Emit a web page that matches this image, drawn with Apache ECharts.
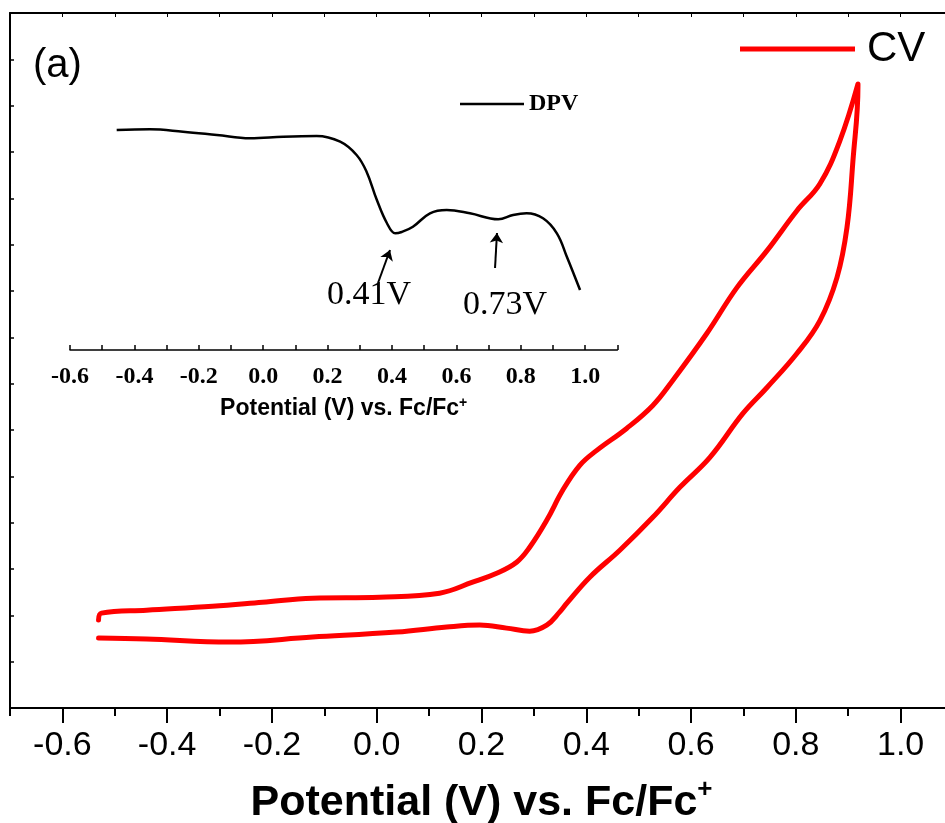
<!DOCTYPE html>
<html>
<head>
<meta charset="utf-8">
<script src="https://cdn.jsdelivr.net/npm/echarts@6/dist/echarts.min.js"></script>
<style>html,body{margin:0;padding:0;background:#fff}#c{width:945px;height:823px}</style>
</head>
<body>
<div id="c"></div>
<script>
// CV loop: potential (V vs Fc/Fc+) and current (arbitrary units)
var cvPotential = [-0.531,-0.4395,-0.281,-0.1224,0.038,0.1335,0.1966,0.248,0.292,0.3245,0.349,0.363,0.4067,0.464,0.527,0.5786,0.636,0.699,0.745,0.802,0.846,0.8785,0.8976,0.909,0.9186,
  0.9186,0.884,0.846,0.802,0.745,0.6875,0.630,0.565,0.527,0.477,0.420,0.3876,0.355,0.3245,0.292,0.267,0.229,0.183,0.120,0.0055,-0.1224,-0.218,-0.3135,-0.4395,-0.5255,-0.531];
var cvCurrent = [1.509,1.487,1.422,1.530,1.638,1.746,1.789,1.724,1.659,1.789,2.069,2.263,2.823,3.405,4.116,4.763,5.409,6.358,6.918,7.651,8.362,9.289,10.366,11.810,13.427,
  13.470,12.241,11.315,10.733,9.871,9.073,8.082,7.069,6.530,6.034,5.560,5.237,4.698,4.052,3.470,3.147,2.909,2.716,2.478,2.392,2.371,2.284,2.198,2.112,2.047,1.897];
// Inset DPV curve
var dpvPotential = [-0.455,-0.352,-0.249,-0.144,-0.041,0.062,0.166,0.239,0.29,0.321,0.353,0.384,0.41,0.43,0.465,0.518,0.57,0.642,0.73,0.776,0.818,0.869,0.912,0.943,0.984];
var dpvCurrent = [22.0,22.07,21.83,21.5,21.17,21.33,21.4,20.83,19.5,17.83,15.0,12.7,11.67,11.8,12.33,13.67,14.0,13.67,13.07,13.5,13.67,13.17,11.67,9.33,6.0];
// Tick labels
var mainTicks = [-0.6,-0.4,-0.2,0.0,0.2,0.4,0.6,0.8,1.0];
var mainMinorTicks = [-0.7,-0.5,-0.3,-0.1,0.1,0.3,0.5,0.7,0.9,1.1];
var insetTicks = [-0.6,-0.4,-0.2,0.0,0.2,0.4,0.6,0.8,1.0];
// Peak annotations
var peakLabels = ['0.41V','0.73V'];
var arrowStart = [[0.3565,6.7],[0.72,8.2]];
var arrowEnd = [[0.3938,10.0],[0.726,11.7]];

var cvData = cvPotential.map(function(v,i){return [v,cvCurrent[i]];});
var dpvData = dpvPotential.map(function(v,i){return [v,dpvCurrent[i]];});
var fmt = function(v){return v.toFixed(1);};
var SANS = 'Liberation Sans', SERIF = 'Liberation Serif';

var chart = echarts.init(document.getElementById('c'), null, {renderer:'canvas'});
chart.setOption({
  animation:false,
  backgroundColor:'#fff',
  grid:[
    {left:10, top:13, width:943, bottom:115, outerBoundsMode:'none', containLabel:false},
    {left:70, top:90, width:547.4, bottom:473, outerBoundsMode:'none', containLabel:false}
  ],
  legend:[
    {data:[{name:'CV', icon:'rect'}], left:735, top:23, itemWidth:115, itemHeight:5,
     textStyle:{fontFamily:SANS, fontSize:42, color:'#000', padding:[0,0,0,7]}},
    {data:[{name:'DPV', icon:'rect'}], left:455, top:87, itemWidth:64, itemHeight:2.5,
     textStyle:{fontFamily:SERIF, fontWeight:'bold', fontSize:24, color:'#000'}}
  ],
  xAxis:[
    {gridIndex:0, type:'value', position:'bottom', min:-0.7, max:1.1,
     axisLine:{onZero:false, lineStyle:{color:'#000', width:2}},
     axisTick:{customValues:mainTicks, length:15, inside:false, lineStyle:{color:'#000', width:2}},
     axisLabel:{customValues:mainTicks, formatter:fmt, fontFamily:SANS, fontSize:34, color:'#000', margin:21},
     splitLine:{show:false},
     name:'{a|Potential (V) vs. Fc/Fc}{s|+}', nameLocation:'middle', nameGap:69,
     nameTextStyle:{rich:{a:{fontFamily:SANS, fontWeight:'bold', fontSize:43, color:'#000'},
                          s:{fontFamily:SANS, fontWeight:'bold', fontSize:26, color:'#000', verticalAlign:'top', padding:[0,0,26,0]}}}},
    {gridIndex:0, type:'value', position:'bottom', min:-0.7, max:1.1,
     axisLine:{show:false, onZero:false},
     axisTick:{customValues:mainMinorTicks, length:8, lineStyle:{color:'#000', width:2}},
     axisLabel:{show:false}, splitLine:{show:false}},
    {gridIndex:0, type:'value', position:'top', min:-0.7, max:1.1, interval:0.1,
     axisLine:{onZero:false, lineStyle:{color:'#000', width:2}},
     axisTick:{inside:true, length:4, lineStyle:{color:'#000', width:1}},
     axisLabel:{show:false}, splitLine:{show:false}},
    {gridIndex:1, type:'value', position:'bottom', min:-0.6, max:1.1, interval:0.1,
     axisLine:{onZero:false, lineStyle:{color:'#000', width:1.5}},
     axisTick:{inside:true, length:5, lineStyle:{color:'#000', width:1.5}},
     axisLabel:{customValues:insetTicks, formatter:fmt, fontFamily:SERIF, fontWeight:'bold', fontSize:24, color:'#000', margin:15},
     splitLine:{show:false},
     name:'{a|Potential (V) vs. Fc/Fc}{s|+}', nameLocation:'middle', nameGap:46,
     nameTextStyle:{rich:{a:{fontFamily:SANS, fontWeight:'bold', fontSize:23, color:'#000'},
                          s:{fontFamily:SANS, fontWeight:'bold', fontSize:14, color:'#000', verticalAlign:'top', padding:[0,0,12,0]}}}}
  ],
  yAxis:[
    {gridIndex:0, type:'value', position:'left', min:0, max:15, interval:1,
     axisLine:{show:true, onZero:false, lineStyle:{color:'#000', width:2}},
     axisTick:{show:true, inside:true, length:4, lineStyle:{color:'#000', width:1.5}},
     axisLabel:{show:false}, splitLine:{show:false}},
    {gridIndex:0, type:'value', position:'right', min:0, max:15, interval:1,
     axisLine:{show:true, onZero:false, lineStyle:{color:'#000', width:2}},
     axisTick:{show:true, inside:true, length:4},
     axisLabel:{show:false}, splitLine:{show:false}},
    {gridIndex:1, type:'value', min:0, max:26, show:false}
  ],
  series:[
    {name:'CV', type:'line', xAxisIndex:0, yAxisIndex:0, data:cvData, smooth:0.4,
     showSymbol:false, symbol:'none', lineStyle:{color:'#ff0000', width:5, cap:'round', join:'round'},
     itemStyle:{color:'#ff0000'}},
    {name:'DPV', type:'line', xAxisIndex:3, yAxisIndex:2, data:dpvData, smooth:0.4,
     showSymbol:false, symbol:'none', lineStyle:{color:'#000', width:2.5},
     itemStyle:{color:'#000'},
     markLine:{silent:true, symbol:['none','arrow'], symbolSize:10, animation:false,
       label:{show:false}, lineStyle:{color:'#000', width:2, type:'solid'},
       data:arrowStart.map(function(s,i){return [{coord:s},{coord:arrowEnd[i]}];})}}
  ],
  graphic:[
    {type:'text', left:33, top:46, style:{text:'(a)', font:'40px "Liberation Sans"', fill:'#000'}},
    {type:'text', x:369, y:295, style:{text:peakLabels[0], font:'34px "Liberation Serif"', fill:'#000', align:'center', verticalAlign:'middle'}},
    {type:'text', x:505, y:305, style:{text:peakLabels[1], font:'34px "Liberation Serif"', fill:'#000', align:'center', verticalAlign:'middle'}}
  ]
});
</script>
</body>
</html>
